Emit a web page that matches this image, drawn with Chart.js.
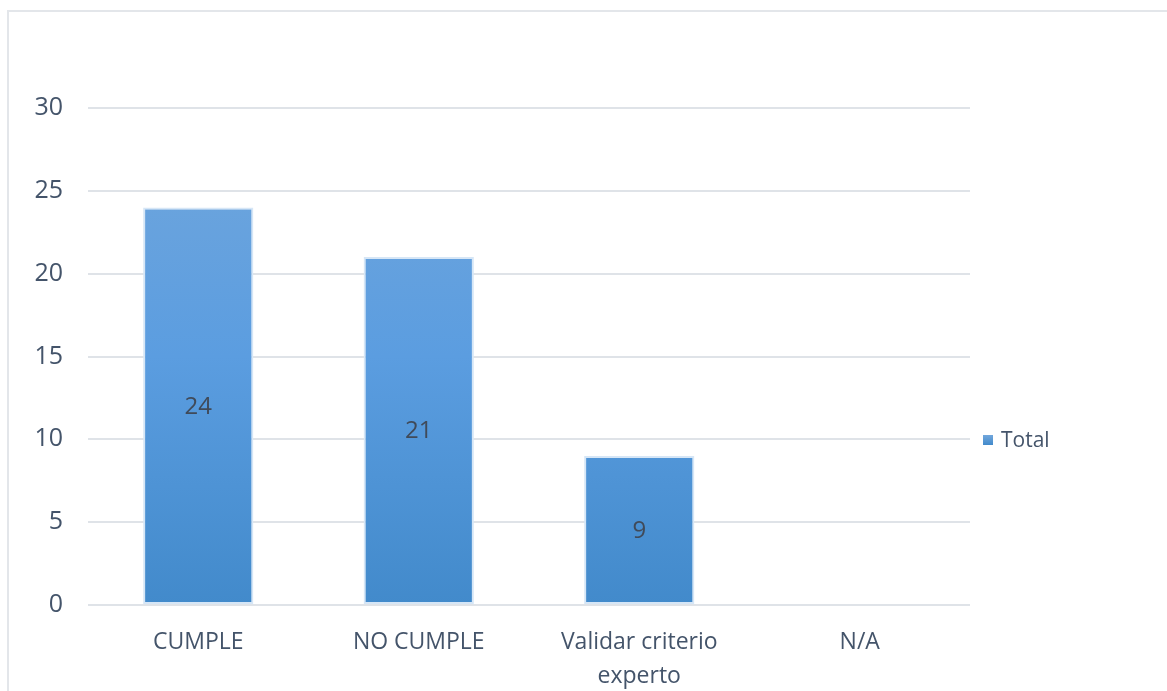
<!DOCTYPE html>
<html>
<head>
<meta charset="utf-8">
<script src="https://cdn.jsdelivr.net/npm/chart.js@4"></script>
<style>
  html, body { margin: 0; padding: 0; background: #fff; overflow: hidden; }
  #wrap { position: relative; width: 1167px; height: 691px; }
  #frame { position: absolute; left: 7px; top: 10px; width: 1200px; height: 720px;
           border-top: 2px solid #e3e6ea; border-left: 2px solid #e3e6ea; pointer-events: none; }
  canvas { position: absolute; left: 0; top: 0; }
</style>
</head>
<body>
<div id="wrap">
  <div id="frame"></div>
  <canvas id="chart" width="1167" height="691"></canvas>
</div>
<script>
// datos de la gráfica
const categories = ['CUMPLE', 'NO CUMPLE', ['Validar criterio', 'experto'], 'N/A'];
const totals = [24, 21, 9, 0];
const yTicks = [0, 5, 10, 15, 20, 25, 30];
const seriesName = 'Total';

const textColor = '#44546a';
const gridColor = '#dfe3e8';
const fontFamily = '"Open Sans", Lato, sans-serif';

// degradado vertical como en Excel
function barGradient(ctx) {
    const chart = ctx.chart;
    const area = chart.chartArea;
    if (!area) return '#5b9bd5';
    const el = ctx.element;
    const top = el && el.y !== undefined ? el.y : area.top;
    const bottom = el && el.base !== undefined ? el.base : area.bottom;
    if (!isFinite(top) || !isFinite(bottom) || top === bottom) return '#5b9bd5';
    const g = chart.ctx.createLinearGradient(0, top, 0, bottom);
    g.addColorStop(0, '#72a7dc');
    g.addColorStop(0.5, '#5b9de0');
    g.addColorStop(1, '#428acb');
    return g;
}

// etiquetas de valor dentro de las barras
const valueLabels = {
    id: 'valueLabels',
    afterDatasetsDraw(chart) {
        const ctx = chart.ctx;
        const meta = chart.getDatasetMeta(0);
        ctx.save();
        ctx.font = '24px ' + fontFamily;
        ctx.fillStyle = '#404a59';
        ctx.textAlign = 'center';
        ctx.textBaseline = 'middle';
        meta.data.forEach((bar, i) => {
            const v = totals[i];
            if (!v) return;
            ctx.fillText(String(v), bar.x, (bar.y + bar.base) / 2 + 1);
        });
        ctx.restore();
    }
};

// leyenda a la derecha
const sideLegend = {
    id: 'sideLegend',
    afterDraw(chart) {
        const ctx = chart.ctx;
        const x = chart.chartArea.right + 13;
        const y = 440;
        ctx.save();
        const g = ctx.createLinearGradient(0, y - 5, 0, y + 5);
        g.addColorStop(0, '#72a7dc');
        g.addColorStop(1, '#428acb');
        ctx.fillStyle = g;
        ctx.fillRect(x, y - 5, 10, 10);
        ctx.font = '21px ' + fontFamily;
        ctx.fillStyle = textColor;
        ctx.textBaseline = 'middle';
        ctx.fillText(seriesName, x + 18, y + 1);
        ctx.restore();
    }
};

new Chart(document.getElementById('chart'), {
    type: 'bar',
    data: {
        labels: categories,
        datasets: [{
            label: seriesName,
            data: totals,
            backgroundColor: barGradient,
            borderColor: '#d6e6f6',
            borderWidth: 2,
            borderSkipped: false,
            categoryPercentage: 0.5,
            barPercentage: 1
        }]
    },
    options: {
        responsive: false,
        animation: false,
        layout: { padding: { top: 108, right: 197, bottom: 0, left: 0 } },
        plugins: { legend: { display: false }, tooltip: { enabled: false } },
        scales: {
            x: {
                grid: { display: false },
                border: { display: false },
                ticks: { color: textColor, font: { family: fontFamily, size: 23, lineHeight: 1.48 }, padding: 12, maxRotation: 0, autoSkip: false },
                afterFit(scale) { scale.height = 86; }
            },
            y: {
                min: 0,
                max: 30,
                afterBuildTicks(scale) { scale.ticks = yTicks.map(v => ({ value: v })); },
                grid: { color: gridColor, lineWidth: 2, drawTicks: false },
                border: { display: false },
                ticks: { color: textColor, font: { family: fontFamily, size: 25 }, padding: 25 },
                afterFit(scale) { scale.width = 88; }
            }
        }
    },
    plugins: [valueLabels, sideLegend]
});
</script>
</body>
</html>
